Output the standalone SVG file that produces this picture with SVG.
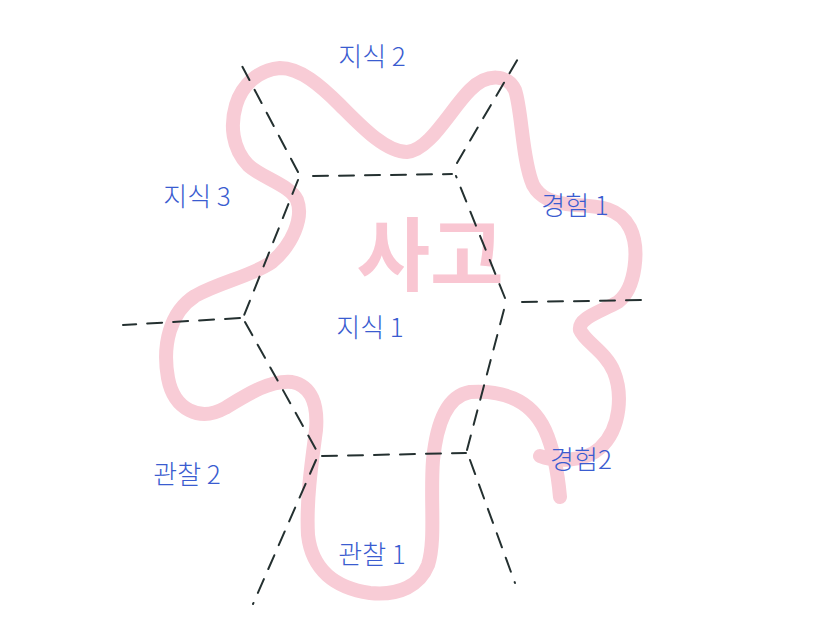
<svg xmlns="http://www.w3.org/2000/svg" width="823" height="634" viewBox="0 0 823 634">
<style>
.dash{fill:none;stroke:#243030;stroke-width:2;stroke-dasharray:15 11;stroke-linecap:round}
.blob{fill:none;stroke:#f8ccd6;stroke-width:14;stroke-linecap:round;stroke-linejoin:round}
.lbl{font-family:"Noto Sans CJK KR","Noto Sans",sans-serif;font-size:26px;fill:#3a5cd0;text-anchor:middle;font-weight:300}
.big{font-family:"Noto Sans CJK KR","Noto Sans",sans-serif;font-size:80px;fill:#f9c6d2;text-anchor:middle;font-weight:700}
</style>
<rect width="823" height="634" fill="#ffffff"/>
<g id="blob">
<path class="blob" d="M540,456 C555,462 585,462 600,448 C622,428 622,392 614,372 C606,352 585,342 580,330 C578,318 600,312 618,302 C636,288 640,248 630,228 C620,208 600,206 575,205 C552,203 540,198 533,185 C522,160 522,110 515,90 C508,75 488,72 470,90 C450,110 430,150 407,152 C385,152 360,125 340,105 C320,85 300,68 280,68 C258,70 242,85 236,105 C230,125 232,148 248,165 C262,178 290,185 297,200 C304,218 292,245 272,262 C252,276 220,282 195,296 C170,312 162,345 168,378 C174,410 200,422 225,408 C248,394 270,380 292,382 C312,386 318,405 316,430 C312,460 306,500 308,535 C312,570 335,588 370,593 C400,596 420,585 428,565 C436,540 430,500 433,460 C437,420 448,396 470,392 C500,390 530,398 545,430 C554,450 558,475 560,497"/>
</g>
<g id="title">
<text class="big" x="430" y="284">사고</text>
</g>
<g id="connectors">
<path class="dash" d="M313,176 L452,174"/>
<path class="dash" d="M298,180 L243,318"/>
<path class="dash" d="M245,322 L318,453"/>
<path class="dash" d="M322,456 L466,453"/>
<path class="dash" d="M467,450 L506,302"/>
<path class="dash" d="M505,298 L456,176"/>
<path class="dash" d="M298,172 L242,66"/>
<path class="dash" d="M457,163 L519,57"/>
<path class="dash" d="M522,302 L648,300"/>
<path class="dash" d="M240,318 L123,325"/>
<path class="dash" d="M316,460 L253,604"/>
<path class="dash" d="M470,460 L515,583"/>
</g>
<g id="n-jisik2"><text class="lbl" x="372" y="66">지식 2</text></g>
<g id="n-jisik3"><text class="lbl" x="197" y="206">지식 3</text></g>
<g id="n-gyeongheom1"><text class="lbl" x="575" y="215">경험 1</text></g>
<g id="n-jisik1"><text class="lbl" x="370" y="337">지식 1</text></g>
<g id="n-gwanchal2"><text class="lbl" x="187" y="484">관찰 2</text></g>
<g id="n-gyeongheom2"><text class="lbl" x="581" y="469">경험2</text></g>
<g id="n-gwanchal1"><text class="lbl" x="372" y="564">관찰 1</text></g>
</svg>
